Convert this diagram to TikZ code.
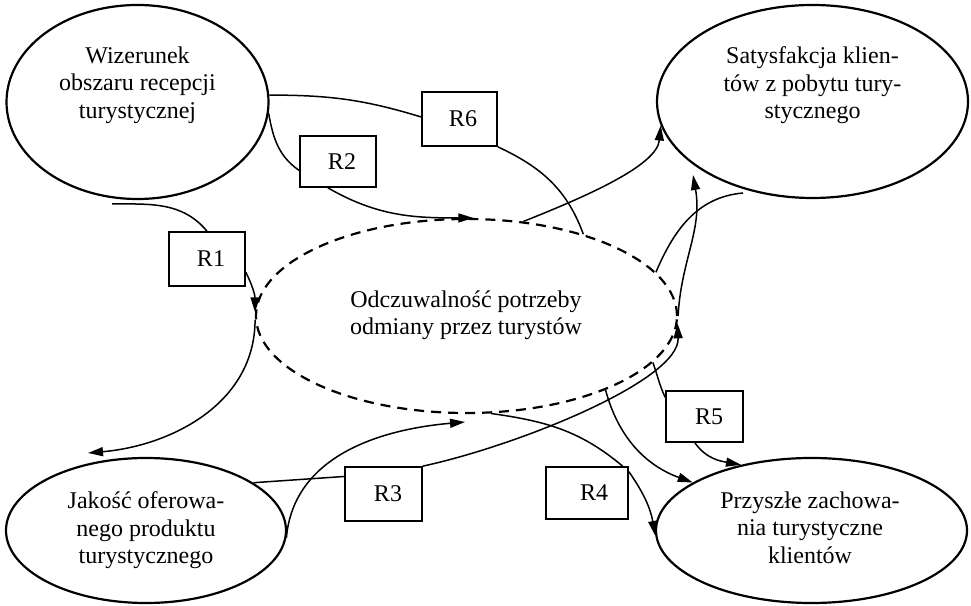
\documentclass[tikz,border=0pt]{standalone}
\usepackage{fontspec}
\setmainfont{Liberation Serif}
\usetikzlibrary{shapes.geometric,arrows.meta,calc}
\begin{document}
\begin{tikzpicture}[x=1pt,y=1pt,
  bub/.style={ellipse,draw,line width=2.2pt,inner sep=0pt},
  lab/.style={align=center,inner sep=0pt,anchor=north,font=\fontsize{24}{27.5}\selectfont},
  rbox/.style={draw,line width=1.7pt,text width=36pt,inner xsep=20pt,inner ysep=0pt,align=right,font=\fontsize{24}{27.5}\selectfont},
  conn/.style={line width=1.5pt},
  arr/.style={conn,-{Triangle[length=15pt,width=9pt]}}]
\useasboundingbox[fill=white] (0,0) rectangle (971,605);
% ellipses
\node[bub,minimum width=262pt,minimum height=194pt] (W) at (137.5,503) {};
\node[bub,minimum width=311pt,minimum height=193pt] (S) at (812.5,503.5) {};
\node[bub,dash pattern=on 10pt off 7pt,minimum width=421pt,minimum height=194pt] (C) at (466.5,289) {};
\node[bub,minimum width=280pt,minimum height=145pt] (J) at (146,74.5) {};
\node[bub,minimum width=311pt,minimum height=145pt] (P) at (811.5,74.5) {};
% texts
\node[lab] (tW) at (137.5,558.4) {Wizerunek\\obszaru recepcji\\turystycznej};
\node[lab] (tS) at (812.5,558.4) {Satysfakcja klien-\\tów z pobytu tury-\\stycznego};
\node[lab] (tC) at (466,314.4) {Odczuwalność potrzeby\\odmiany przez turystów};
\node[lab] (tJ) at (146,113.5) {Jakość oferowa-\\nego produktu\\turystycznego};
\node[lab] (tP) at (810,113.5) {Przyszłe zachowa-\\nia turystyczne\\klientów};
% boxes
\node[rbox,minimum height=54pt] (R1) at (207,346) {R1};
\node[rbox,minimum height=51pt] (R2) at (338,443.5) {R2};
\node[rbox,minimum height=54pt,text width=35pt] (R6) at (459.5,486) {R6};
\node[rbox,minimum height=54pt,text width=37pt] (R3) at (383.5,111) {R3};
\node[rbox,minimum height=52pt,text width=42pt] (R4) at (587,112) {R4};
\node[rbox,minimum height=51pt,text width=37pt] (R5) at (704.5,188.5) {R5};
% free ends
\coordinate (w1) at (112,401);
\coordinate (j1) at (88,152);
\coordinate (s2) at (693,430);
\coordinate (s3) at (743,412);
\coordinate (c3) at (465,183);
% connectors
\draw[conn] (w1) to[out=0,in=130] (R1.north);
\draw[arr] (R1.-19) to[out=-63,in=90] (C.179);
\draw[arr] (C.181) to[out=-90,in=5] (j1);
\draw[conn] (W.-5) to[out=-80,in=145] (R2.193);
\draw[arr] (R2.-111) to[out=-30,in=180] (C.86);
\draw[conn] (W.3) to[out=0,in=163] (R6.177);
\draw[conn] (R6.south east) to[out=-25,in=110] (C.35);
\draw[arr] (C.59) .. controls (590,410) and (657,440) .. (S.189);
\draw[arr] (C.east) to[out=87,in=-80] (s2);
\draw[conn] (s3) to[out=185,in=67] (C.13);
\draw[arr] (J.-3) to[out=85,in=185] (c3);
\draw[conn] (J.24) -- (R3.156);
\draw[arr] (R3.north east) .. controls (520,160) and (680,225) .. (C.-2);
\draw[conn] (C.-76) to[out=-8,in=140] (R4.37);
\draw[arr] (R4.27) to[out=-55,in=100] (P.182);
\draw[arr] (C.-28) to[out=-75,in=160] (P.158);
\draw[conn] (C.-14) to[out=-70,in=115] (R5.154);
\draw[arr] (R5.-110) to[out=-55,in=170] (P.137);
\end{tikzpicture}
\end{document}
